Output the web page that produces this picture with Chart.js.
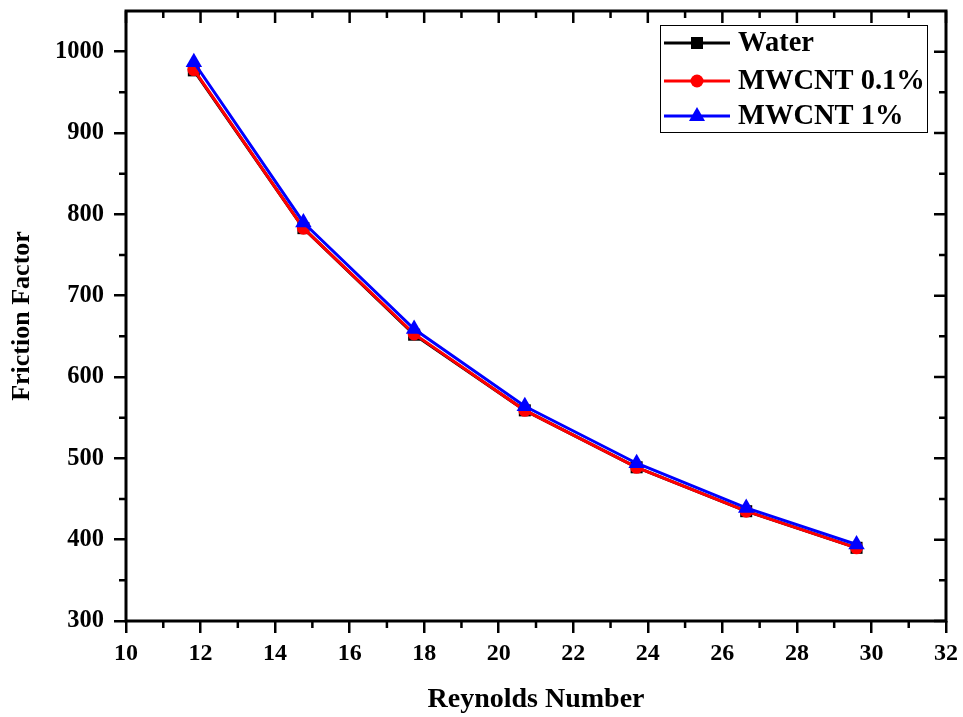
<!DOCTYPE html>
<html>
<head>
<meta charset="utf-8">
<script src="https://cdn.jsdelivr.net/npm/chart.js@4"></script>
<style>
  html, body { margin: 0; padding: 0; background: #fff; }
  #wrap { width: 963px; height: 717px; }
</style>
</head>
<body>
<div id="wrap"><canvas id="chart" width="963" height="717"></canvas></div>
<script>
// Reynolds number (x) and friction factor (y)
const reynolds = [11.82, 14.76, 17.73, 20.7, 23.7, 26.64, 29.6];
const water    = [977, 783, 652, 559, 489, 435, 390];
const mwcnt01  = [978, 783, 653, 559, 489, 435, 390];
const mwcnt1   = [987, 790, 659, 564, 494, 439, 394];
const seriesNames = ['Water', 'MWCNT 0.1%', 'MWCNT 1%'];

const FONT = 'Liberation Serif, Times New Roman, serif';

const toPts = arr => arr.map((v, i) => ({x: reynolds[i], y: v}));

// frame, minor ticks, ticks on top/right (pointing in)
const framePlugin = {
  id: 'frame',
  afterDatasetsDraw(chart) {
    const {ctx, chartArea: a, scales: {x, y}} = chart;
    ctx.save();
    ctx.strokeStyle = '#000';
    ctx.lineWidth = 2.5;
    ctx.beginPath();
    // majors on top/right, inward
    for (let v = 10; v <= 32; v += 2) {
      const px = x.getPixelForValue(v);
      ctx.moveTo(px, a.top); ctx.lineTo(px, a.top + 12);
    }
    for (let v = 300; v <= 1000; v += 100) {
      const py = y.getPixelForValue(v);
      ctx.moveTo(a.right, py); ctx.lineTo(a.right - 12, py);
    }
    // minors
    for (let v = 11; v < 32; v += 2) {
      const px = x.getPixelForValue(v);
      ctx.moveTo(px, a.top); ctx.lineTo(px, a.top + 7);
      ctx.moveTo(px, a.bottom); ctx.lineTo(px, a.bottom + 7);
    }
    for (let v = 350; v < 1050; v += 100) {
      const py = y.getPixelForValue(v);
      ctx.moveTo(a.right, py); ctx.lineTo(a.right - 7, py);
      ctx.moveTo(a.left, py); ctx.lineTo(a.left - 7, py);
    }
    ctx.stroke();
    ctx.lineWidth = 3;
    ctx.strokeRect(a.left, a.top, a.right - a.left, a.bottom - a.top);
    ctx.restore();
  }
};

function marker(ctx, style, cx, cy, color) {
  ctx.fillStyle = color;
  ctx.beginPath();
  if (style === 'rect') {
    ctx.rect(cx - 6, cy - 6, 12, 12);
  } else if (style === 'circle') {
    ctx.arc(cx, cy, 6.5, 0, Math.PI * 2);
  } else {
    ctx.moveTo(cx, cy - 9);
    ctx.lineTo(cx + 8, cy + 5);
    ctx.lineTo(cx - 8, cy + 5);
    ctx.closePath();
  }
  ctx.fill();
}

// boxed legend in the top right corner
const legendPlugin = {
  id: 'boxLegend',
  afterDraw(chart) {
    const {ctx} = chart;
    ctx.save();
    ctx.strokeStyle = '#000';
    ctx.lineWidth = 1;
    ctx.strokeRect(660.5, 25.5, 267, 107);
    const rows = [43, 81, 116];
    chart.data.datasets.forEach((ds, i) => {
      const yy = rows[i];
      ctx.strokeStyle = ds.borderColor;
      ctx.lineWidth = 3;
      ctx.beginPath();
      ctx.moveTo(664, yy); ctx.lineTo(730, yy);
      ctx.stroke();
      marker(ctx, ds.pointStyle, 697, yy, ds.borderColor);
      ctx.fillStyle = '#000';
      ctx.font = 'bold 28.5px ' + FONT;
      ctx.textBaseline = 'middle';
      ctx.textAlign = 'left';
      ctx.fillText(ds.label, 738, yy + 1);
    });
    ctx.restore();
  }
};

// lower order draws on top: blue over red over black
const ds = (label, data, color, style, r, order) => ({
  label: label,
  data: toPts(data),
  borderColor: color,
  backgroundColor: color,
  borderWidth: 3,
  pointStyle: style,
  pointRadius: r,
  pointBorderWidth: 0,
  tension: 0,
  order: order
});

new Chart(document.getElementById('chart'), {
  type: 'line',
  data: {
    datasets: [
      ds(seriesNames[0], water, '#000000', 'rect', 8.5, 3),
      ds(seriesNames[1], mwcnt01, '#ff0000', 'circle', 6.5, 2),
      ds(seriesNames[2], mwcnt1, '#0000ff', 'triangle', 9.5, 1)
    ]
  },
  options: {
    responsive: false,
    animation: false,
    layout: { padding: { top: 11, right: 17, left: 0, bottom: 0 } },
    plugins: { legend: { display: false }, tooltip: { enabled: false } },
    scales: {
      x: {
        type: 'linear', min: 10, max: 32,
        afterFit: s => { s.height = 96; s.paddingLeft = 0; s.paddingRight = 0; },
        ticks: { stepSize: 2, padding: 6, color: '#000', font: { family: FONT, size: 24, weight: 'bold' } },
        grid: { display: true, drawOnChartArea: false, drawTicks: true, tickLength: 12, color: '#000', lineWidth: 2.5 },
        border: { display: false },
        title: { display: true, text: 'Reynolds Number', color: '#000', padding: { top: 0, bottom: 0 },
                 font: { family: FONT, size: 28, weight: 'bold' } }
      },
      y: {
        type: 'linear', min: 300, max: 1050,
        afterFit: s => { s.width = 126; s.paddingTop = 0; s.paddingBottom = 0; },
        afterBuildTicks: s => { s.ticks = s.ticks.filter(t => t.value % 100 === 0); },
        ticks: { stepSize: 100, padding: 10, color: '#000', callback: v => String(v),
                 font: { family: FONT, size: 24.5, weight: 'bold' } },
        grid: { display: true, drawOnChartArea: false, drawTicks: true, tickLength: 12, color: '#000', lineWidth: 2.5 },
        border: { display: false },
        title: { display: true, text: 'Friction Factor', color: '#000', padding: { top: 7, bottom: 0 },
                 font: { family: FONT, size: 26, weight: 'bold' } }
      }
    }
  },
  plugins: [framePlugin, legendPlugin]
});
</script>
</body>
</html>
